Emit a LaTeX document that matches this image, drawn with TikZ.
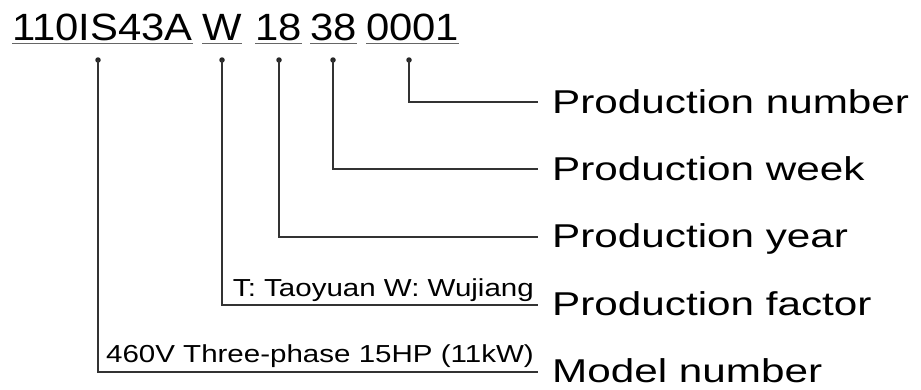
\documentclass[tikz,border=0pt]{standalone}
\usepackage{fontspec}
\setmainfont{Liberation Sans}
\newfontfamily\codefont[FakeStretch=1.1]{Liberation Sans}
\newfontfamily\labfont[FakeStretch=1.28]{Liberation Sans}
\newfontfamily\smallfont[FakeStretch=1.2]{Liberation Sans}
\usetikzlibrary{calc}
\begin{document}
\begin{tikzpicture}[x=1pt,y=-1pt,
  code/.style={inner sep=0pt,anchor=base west,font=\codefont\fontsize{38}{40}\selectfont},
  lab/.style={inner sep=0pt,anchor=base west,font=\labfont\fontsize{33}{35}\selectfont},
  note/.style={inner sep=0pt,anchor=base east,font=\smallfont\fontsize{24.6}{26}\selectfont},
  uline/.style={draw=black!60,line width=1.6pt},
  conn/.style={draw=black!80,line width=1.3pt},
  dot/.style={circle,fill=black!85,inner sep=0pt,minimum size=5.5pt}]
\useasboundingbox (0,0) rectangle (921,389);
% code groups
\node[code] (g1) at (12,40) {110IS43A};
\node[code] (g2) at (202,40) {W};
\node[code] (g3) at (255,40) {18};
\node[code] (g4) at (310,40) {38};
\node[code] (g5) at (366,40) {0001};
\foreach \g in {g1,g2,g3,g4,g5}
  \draw[uline] ($(\g.base west)+(0,3.5)$) -- ($(\g.base east)+(0,3.5)$);
% dots
\node[dot] (d1) at (98,60) {};
\node[dot] (d2) at (222,60) {};
\node[dot] (d3) at (279,60) {};
\node[dot] (d4) at (333,60) {};
\node[dot] (d5) at (409,60) {};
% line ends
\coordinate (e5) at (538,102);
\coordinate (e4) at (538,169);
\coordinate (e3) at (538,237);
\coordinate (e2) at (538,305);
\coordinate (e1) at (538,372);
% connectors
\draw[conn] (d5.center) |- (e5);
\draw[conn] (d4.center) |- (e4);
\draw[conn] (d3.center) |- (e3);
\draw[conn] (d2.center) |- (e2);
\draw[conn] (d1.center) |- (e1);
% labels
\node[lab] (l5) at (552,113) {Production number};
\node[lab] (l4) at (552,180) {Production week};
\node[lab] (l3) at (552,247) {Production year};
\node[lab] (l2) at (552,315) {Production factor};
\node[lab] (l1) at (552,382) {Model number};
\node[note] (n2) at (534,296) {T: Taoyuan W: Wujiang};
\node[note] (n1) at (534,362) {460V Three-phase 15HP (11kW)};
\end{tikzpicture}
\end{document}
